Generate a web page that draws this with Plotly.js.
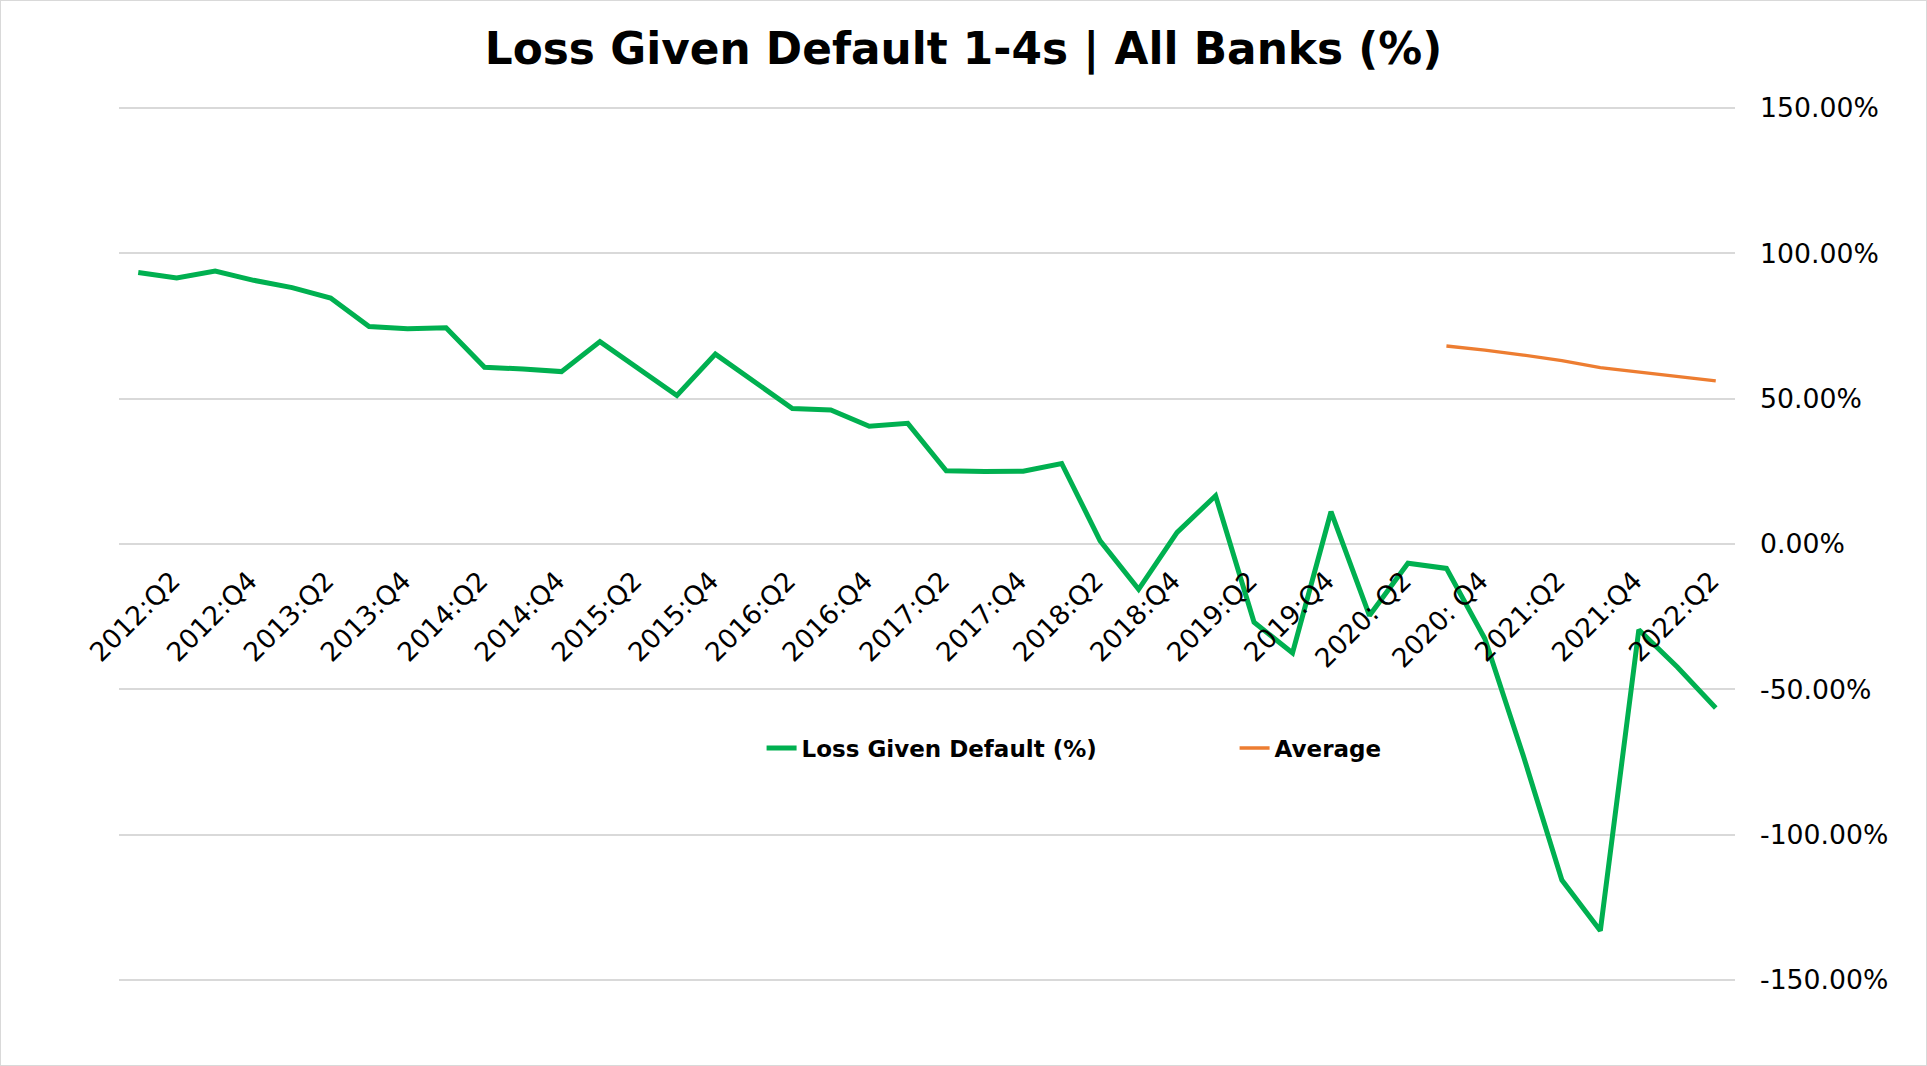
<!DOCTYPE html>
<html>
<head>
<meta charset="utf-8">
<script src="https://cdn.plot.ly/plotly-3.0.1.min.js"></script>
<style>
  html, body { margin: 0; padding: 0; background: #fff; }
  #wrap { position: relative; width: 1927px; height: 1066px; }
  #chart { position: absolute; left: 0; top: 0; width: 1927px; height: 1066px; }
  #frame { position: absolute; left: 0; top: 0; width: 1927px; height: 1066px; box-sizing: border-box; border: 1px solid #d9d9d9; pointer-events: none; }
</style>
</head>
<body>
<div id="wrap"><div id="chart"></div><div id="frame"></div></div>
<script>
const quarters = [
  "2012:Q2","2012:Q3","2012:Q4",
  "2013:Q1","2013:Q2","2013:Q3","2013:Q4",
  "2014:Q1","2014:Q2","2014:Q3","2014:Q4",
  "2015:Q1","2015:Q2","2015:Q3","2015:Q4",
  "2016:Q1","2016:Q2","2016:Q3","2016:Q4",
  "2017:Q1","2017:Q2","2017:Q3","2017:Q4",
  "2018:Q1","2018:Q2","2018:Q3","2018:Q4",
  "2019:Q1","2019:Q2","2019:Q3","2019:Q4",
  "2020: Q1","2020: Q2","2020: Q3","2020: Q4",
  "2021:Q1","2021:Q2","2021:Q3","2021:Q4",
  "2022:Q1","2022:Q2","2022:Q3"
];

const lossGivenDefault = [
  93.4, 91.5, 93.9,
  90.7, 88.2, 84.6, 74.8,
  74.0, 74.4, 60.8, 60.2,
  59.3, 69.6, 60.6, 51.1,
  65.3, 56.2, 46.6, 46.1,
  40.5, 41.5, 25.2, 24.9,
  25.0, 27.7, 1.1, -15.6,
  4.0, 16.6, -26.9, -37.5,
  11.1, -24.6, -6.6, -8.4,
  -32.6, -72.9, -115.6, -133.0,
  -29.5, -42.3, -56.4
];

const average = [
  null, null, null,
  null, null, null, null,
  null, null, null, null,
  null, null, null, null,
  null, null, null, null,
  null, null, null, null,
  null, null, null, null,
  null, null, null, null,
  null, null, null, 68.1,
  66.7, 65.0, 63.1, 60.7,
  59.2, 57.7, 56.1
];

const yTickValues = [-150, -100, -50, 0, 50, 100, 150];
const yTickLabels = yTickValues.map(v => v.toFixed(2) + "%");
const xTickLabels = quarters.filter((q, i) => i % 2 === 0);

const FONT = "DejaVu Sans, Verdana, sans-serif";

const traces = [
  {
    x: quarters, y: lossGivenDefault, type: "scatter", mode: "lines",
    name: "Loss Given Default (%)",
    line: { color: "#00B050", width: 5 },
    hoverinfo: "x+y"
  },
  {
    x: quarters, y: average, type: "scatter", mode: "lines",
    name: "Average",
    line: { color: "#ED7D31", width: 3.3 },
    connectgaps: false,
    hoverinfo: "x+y"
  }
];

const layout = {
  width: 1927, height: 1066,
  paper_bgcolor: "#ffffff", plot_bgcolor: "#ffffff",
  margin: { l: 119, r: 192, t: 105.1, b: 83.1, pad: 0 },
  font: { family: FONT, color: "#000000" },
  title: {
    text: "Loss Given Default 1-4s | All Banks (%)",
    font: { family: FONT, size: 43.8, weight: "bold", color: "#000000" },
    xref: "container", x: 0.5, xanchor: "center",
    yref: "container", y: 1 - 49 / 1066, yanchor: "middle"
  },
  xaxis: {
    type: "category",
    range: [-0.5, quarters.length - 0.5],
    anchor: "free", position: 0.5,
    tickmode: "array", tickvals: xTickLabels, ticktext: xTickLabels,
    tickangle: -45,
    tickfont: { family: FONT, size: 26.5, color: "#000000" },
    ticklabelshift: 34, ticklabelstandoff: 15,
    showgrid: false, showline: false, zeroline: false, ticks: ""
  },
  yaxis: {
    range: [-151, 151],
    side: "right",
    tickmode: "array", tickvals: yTickValues, ticktext: yTickLabels,
    tickfont: { family: FONT, size: 26.7, color: "#000000" },
    showgrid: true, gridcolor: "#d9d9d9", gridwidth: 1.5,
    showline: false, zeroline: false, ticks: "",
    ticklabelstandoff: 24
  },
  showlegend: true,
  legend: {
    orientation: "h",
    x: (759 - 119) / 1609.5, xanchor: "left",
    y: (982.9 - 748) / 877.8, yanchor: "middle",
    font: { family: FONT, size: 23, weight: "bold", color: "#000000" },
    bgcolor: "rgba(0,0,0,0)",
    entrywidth: 428, entrywidthmode: "pixels",
    traceorder: "normal"
  }
};

Plotly.newPlot("chart", traces, layout, { displayModeBar: false, staticPlot: false });
</script>
</body>
</html>
